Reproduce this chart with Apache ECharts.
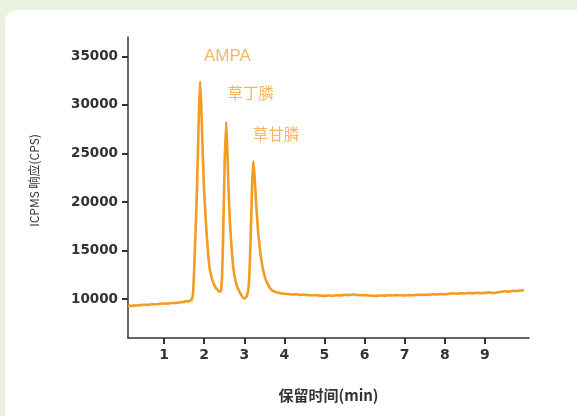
<!DOCTYPE html>
<html>
<head>
<meta charset="utf-8">
<script src="https://cdn.jsdelivr.net/npm/echarts@6/dist/echarts.min.js"></script>
<style>
  html, body { margin: 0; padding: 0; background: #e9f2df; }
  #card { position: absolute; left: 5px; top: 10px; right: 0; bottom: 0; background: #fff; border-top-left-radius: 12px; }
  #main { position: absolute; left: 0; top: 0; width: 577px; height: 416px; }
</style>
</head>
<body>
<div id="card"></div>
<div id="main"></div>
<script>
// 保留时间 (min)
var times = [
  0.10, 0.15, 0.20, 0.25, 0.30, 0.40, 0.50, 0.60, 0.70, 0.80, 0.90, 1.00, 1.10, 1.20, 1.30, 1.40, 1.50, 1.55, 1.60, 1.65,
  1.68, 1.72, 1.75, 1.78, 1.81, 1.84, 1.87, 1.90, 1.93, 1.96, 1.99, 2.02, 2.06, 2.10, 2.14, 2.20, 2.26, 2.32, 2.39,
  2.42, 2.45, 2.48, 2.51, 2.55, 2.58, 2.61, 2.64, 2.68, 2.72, 2.76, 2.82, 2.89, 2.95, 3.01, 3.06, 3.10, 3.13, 3.16, 3.19,
  3.22, 3.25, 3.28, 3.31, 3.34, 3.38, 3.42, 3.47, 3.52, 3.58, 3.65, 3.72, 3.80, 3.90, 4.00, 4.10, 4.20, 4.30, 4.40,
  4.50, 4.60, 4.70, 4.80, 4.90, 5.00, 5.10, 5.20, 5.30, 5.40, 5.50, 5.60, 5.70, 5.80, 5.90, 6.00, 6.10, 6.20, 6.30, 6.40,
  6.50, 6.60, 6.70, 6.80, 6.90, 7.00, 7.10, 7.20, 7.30, 7.40, 7.50, 7.60, 7.70, 7.80, 7.90, 8.00, 8.10, 8.20, 8.30, 8.40,
  8.50, 8.60, 8.70, 8.80, 8.90, 9.00, 9.10, 9.20, 9.30, 9.40, 9.50, 9.60, 9.70, 9.80, 9.90, 9.97
];
// ICPMS 响应 (CPS)
var cps = [
  9280, 9330, 9300, 9360, 9340, 9390, 9420, 9410, 9480, 9470, 9520, 9560, 9540, 9610, 9600, 9680, 9720, 9800, 9760, 9850,
  9900, 10500, 13000, 16500, 19900, 24500, 29500, 32400, 29500, 25500, 22000, 19500, 16800, 14600, 13100, 12000, 11400, 11000, 10750,
  10900, 12800, 18000, 24000, 28250, 25000, 21000, 18000, 15500, 13500, 12300, 11300, 10700, 10250, 10070, 10300, 11000, 12800, 16500, 21000,
  24200, 23000, 21000, 19000, 17200, 15500, 14200, 13000, 12200, 11600, 11100, 10850, 10700, 10620, 10550, 10520, 10480, 10500, 10440,
  10460, 10420, 10400, 10420, 10360, 10340, 10380, 10350, 10400, 10380, 10450, 10420, 10480, 10440, 10400, 10420, 10380, 10350, 10340, 10380,
  10360, 10400, 10380, 10420, 10400, 10380, 10420, 10400, 10450, 10430, 10460, 10440, 10500, 10480, 10520, 10500, 10550, 10590, 10560, 10610,
  10580, 10640, 10600, 10660, 10620, 10650, 10700, 10620, 10680, 10760, 10820, 10780, 10850, 10830, 10900, 10930
];
// 峰标注
var peakNames = ['AMPA', '草丁膦', '草甘膦'];
var peakLabelPos = [[2.58, 35000], [3.16, 31250], [3.79, 26950]];
var peakLabelSize = [17, 15.5, 15.5];

var xTicks = [1, 2, 3, 4, 5, 6, 7, 8, 9];
var yTicks = [10000, 15000, 20000, 25000, 30000, 35000];

var lineData = times.map(function (t, i) { return [t, cps[i]]; });
var labelData = peakLabelPos.map(function (p, i) {
  return {
    name: peakNames[i],
    value: p,
    label: { fontSize: peakLabelSize[i], fontFamily: i === 0 ? 'Liberation Sans' : 'Noto Sans CJK SC' }
  };
});

var chart = echarts.init(document.getElementById('main'));

var axisColor = '#333';
var option = {
  animation: false,
  grid: { left: 128, right: 48, top: 37, bottom: 78 },
  xAxis: {
    type: 'value',
    min: 0.1,
    max: 10.1,
    name: '保留时间(min)',
    nameLocation: 'middle',
    nameGap: 50,
    nameTextStyle: { color: axisColor, fontSize: 15, fontFamily: 'Noto Sans CJK SC', fontWeight: 'bold' },
    axisLine: { lineStyle: { color: axisColor, width: 1.5 } },
    axisTick: { customValues: xTicks, length: 6, lineStyle: { color: axisColor, width: 2 } },
    axisLabel: { customValues: xTicks, color: axisColor, fontSize: 14, fontWeight: 'bold', margin: 10, fontFamily: 'DejaVu Sans' },
    splitLine: { show: false }
  },
  yAxis: {
    type: 'value',
    min: 6000,
    max: 37000,
    name: 'ICPMS 响应(CPS)',
    nameLocation: 'middle',
    nameGap: 88,
    nameTextStyle: { color: axisColor, fontSize: 12, fontFamily: 'Noto Sans CJK SC', padding: [0, 0, 0, 14] },
    axisLine: { show: true, lineStyle: { color: axisColor, width: 1.5 } },
    axisTick: { show: true, customValues: yTicks, length: 6, lineStyle: { color: axisColor, width: 2 } },
    axisLabel: {
      customValues: yTicks,
      formatter: function (v) { return String(v); },
      color: axisColor, fontSize: 13.5, fontWeight: 'bold', margin: 10, fontFamily: 'DejaVu Sans'
    },
    splitLine: { show: false }
  },
  series: [
    {
      type: 'line',
      data: lineData,
      showSymbol: false,
      smooth: 0.15,
      lineStyle: { color: '#f49b22', width: 2.6 },
      z: 3
    },
    {
      type: 'scatter',
      data: labelData,
      symbolSize: 0,
      label: {
        show: true,
        position: 'inside',
        formatter: '{b}',
        color: '#f6a33a'
      },
      z: 4
    }
  ]
};

chart.setOption(option);
</script>
</body>
</html>
